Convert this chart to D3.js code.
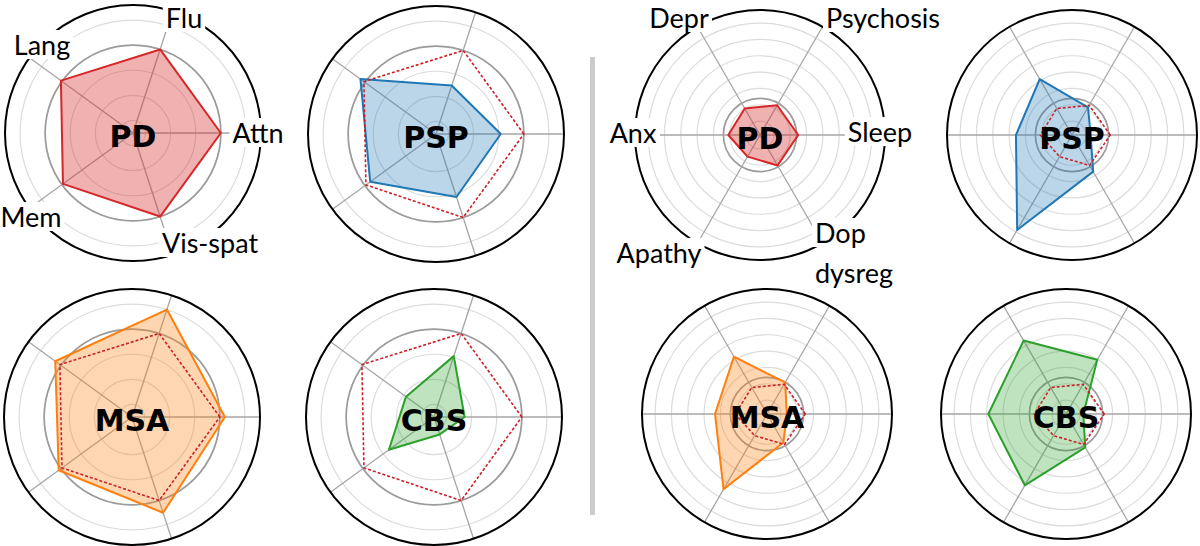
<!DOCTYPE html>
<html><head><meta charset="utf-8">
<script src="https://cdn.jsdelivr.net/npm/d3@7"></script>
<style>html,body{margin:0;padding:0;background:#fff;}svg{display:block;}</style>
</head><body>
<svg id="chart" width="1200" height="546"></svg>
<script>
// ---------- data ----------
const groups = ["PD", "PSP", "MSA", "CBS"];
const cogAxes = ["Attn", "Flu", "Lang", "Mem", "Vis-spat"];
const npsAxes = ["Sleep", "Psychosis", "Depr", "Anx", "Apathy", "Dop dysreg"];

const cogPD  = [3.0, 3.0, 3.05, 2.95, 3.0];
const cogPSP = [2.08, 1.53, 3.22, 2.74, 2.14];
const cogMSA = [3.2, 4.0, 3.28, 3.11, 3.51];
const cogCBS = [0.72, 2.05, 0.88, 1.72, 0.23];

const npsPD  = [2.49, 2.25, 2.02, 2.09, 1.68, 2.3];
const npsPSP = [1.29, 2.11, 4.1, 3.58, 6.86, 2.74];
const npsMSA = [1.36, 2.38, 4.2, 3.33, 5.47, 2.16];
const npsCBS = [1.21, 3.98, 5.34, 4.9, 5.19, 2.51];

const cogTicks = [0, 1, 2, 3, 4];
const cogRefRing = 3;
const cogDomain = [-0.5, 4.6];
const npsTicks = [1, 2, 3, 4, 5, 6, 7];
const npsRefRing = 2.39;
const npsDomain = [0.15, 7.8];

// ---------- layout ----------
const colors = {PD: "#d62728", PSP: "#1f77b4", MSA: "#ff7f0e", CBS: "#2ca02c"};
const fillOp = {PD: 0.36, PSP: 0.3, MSA: 0.32, CBS: 0.3};
const cogCenters = [[133, 133], [436, 134], [132, 417], [434, 417]];
const npsCenters = [[760, 135], [1072, 135], [767, 414], [1066, 414]];
const cogR = 128, npsR = 125;
// label offsets (baseline) relative to chart centre
const cogLabelPos = [[125, 10], [51, -105], [-91, -78], [-102, 94], [77, 120]];
const npsLabelPos = [[120, 7], [123, -107], [-81, -107], [-127, 8], [-101, 128], [55, 108]];

const svg = d3.select("#chart");

svg.append("rect").attr("x", 590).attr("y", 57).attr("width", 5).attr("height", 458)
  .attr("fill", "#cccccc");

function drawRadar(opts) {
  const {center, R, axes, values, ref, group, ticks, refRing, domain, labels, labelPos} = opts;
  const g = svg.append("g").attr("transform", `translate(${center[0]},${center[1]})`);
  const r = d3.scaleLinear().domain(domain).range([0, R]);
  const n = axes.length;
  const ang = d3.scaleLinear().domain([0, n]).range([0, 2 * Math.PI]);
  // d3 angle: clockwise from 12 o'clock; axes go counter-clockwise from east
  const a = i => Math.PI / 2 - ang(i);

  g.selectAll("circle.grid").data(ticks).join("circle")
    .attr("r", d => r(d)).attr("fill", "none")
    .attr("stroke", "#dcdcdc").attr("stroke-width", 1.2);
  g.append("circle").attr("r", r(refRing)).attr("fill", "none")
    .attr("stroke", "#9c9c9c").attr("stroke-width", 1.7);

  g.selectAll("line.spoke").data(axes).join("line")
    .attr("x1", 0).attr("y1", 0)
    .attr("x2", (d, i) => R * Math.sin(a(i)))
    .attr("y2", (d, i) => -R * Math.cos(a(i)))
    .attr("stroke", "#a6a6a6").attr("stroke-width", 1.3);

  g.append("circle").attr("r", R).attr("fill", "none")
    .attr("stroke", "#000").attr("stroke-width", 2);

  const line = d3.lineRadial()
    .angle((d, i) => a(i)).radius(d => r(d)).curve(d3.curveLinearClosed);

  g.append("path").attr("d", line(values))
    .attr("fill", colors[group]).attr("fill-opacity", fillOp[group])
    .attr("stroke", colors[group]).attr("stroke-width", 2).attr("stroke-linejoin", "round");

  if (ref) {
    g.append("path").attr("d", line(ref))
      .attr("fill", "none").attr("stroke", "#cc1f28").attr("stroke-width", 1.6)
      .attr("stroke-dasharray", "3,2");
  }

  if (labels) {
    axes.forEach((name, i) => {
      const p = labelPos[i];
      const parts = name === "Dop dysreg" ? ["Dop", "dysreg"] : [name];
      parts.forEach((t, k) => {
        const anchor = parts.length > 1 ? "start" : "middle";
        const txt = g.append("text")
          .attr("x", p[0]).attr("y", p[1] + k * 40)
          .attr("text-anchor", anchor)
          .attr("font-family", "Lato, 'Open Sans', sans-serif")
          .attr("font-size", 27).attr("fill", "#000").text(t);
        const bb = txt.node().getBBox();
        g.insert("rect", function() { return txt.node(); })
          .attr("x", bb.x - 3).attr("y", bb.y + 2).attr("width", bb.width + 6).attr("height", bb.height - 4)
          .attr("fill", "#fff");
      });
    });
  }

  g.append("text").attr("x", 0).attr("y", 14)
    .attr("text-anchor", "middle")
    .attr("font-family", "'DejaVu Sans', sans-serif").attr("font-weight", "bold")
    .attr("font-size", 30).attr("fill", "#000").text(group);
}

const cogVals = [cogPD, cogPSP, cogMSA, cogCBS];
const npsVals = [npsPD, npsPSP, npsMSA, npsCBS];

groups.forEach((grp, gi) => {
  drawRadar({center: cogCenters[gi], R: cogR, axes: cogAxes, values: cogVals[gi],
    ref: gi === 0 ? null : cogPD, group: grp, ticks: cogTicks, refRing: cogRefRing,
    domain: cogDomain, labels: gi === 0, labelPos: cogLabelPos});
  drawRadar({center: npsCenters[gi], R: npsR, axes: npsAxes, values: npsVals[gi],
    ref: gi === 0 ? null : npsPD, group: grp, ticks: npsTicks, refRing: npsRefRing,
    domain: npsDomain, labels: gi === 0, labelPos: npsLabelPos});
});
</script>
</body></html>
